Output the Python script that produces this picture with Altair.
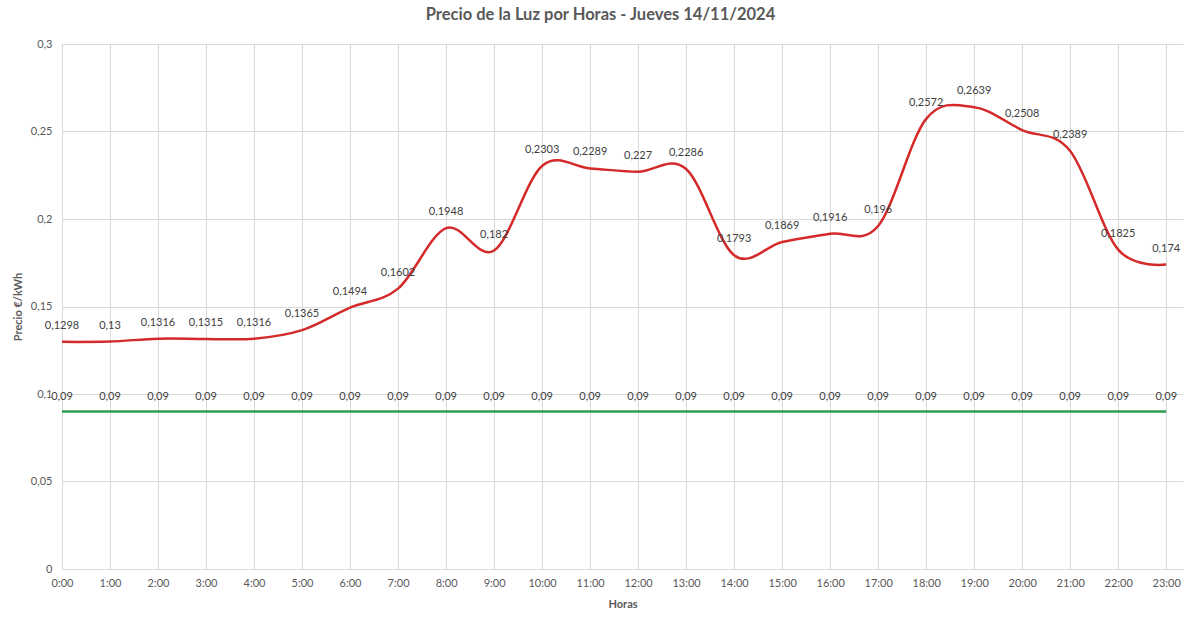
import altair as alt
import pandas as pd

horas = list(range(24))
precio = [0.1298, 0.13, 0.1316, 0.1315, 0.1316, 0.1365, 0.1494, 0.1602, 0.1948, 0.182,
          0.2303, 0.2289, 0.227, 0.2286, 0.1793, 0.1869, 0.1916, 0.196, 0.2572, 0.2639,
          0.2508, 0.2389, 0.1825, 0.174]
referencia = [0.09] * 24

df = pd.DataFrame({
    "h": horas,
    "precio": precio,
    "ref": referencia,
    "lab_p": [str(v).replace(".", ",") for v in precio],
    "lab_r": [str(v).replace(".", ",") for v in referencia],
})

FONT = "Lato"
GRAY = "#595959"

x = alt.X("h:Q",
          scale=alt.Scale(domain=[0, 23.35], nice=False, zero=False),
          axis=alt.Axis(values=horas, labelExpr="datum.value + ':00'", grid=True,
                        gridColor="#d9d9d9", domainColor="#d9d9d9", ticks=False,
                        labelPadding=8, labelFontSize=11, labelColor=GRAY,
                        title="Horas", titleFontSize=11, titleColor=GRAY,
                        titleFontWeight="bold", titlePadding=10, labelFlush=False))
y_axis = alt.Axis(values=[0, 0.05, 0.1, 0.15, 0.2, 0.25, 0.3],
                  labelExpr="replace(format(datum.value, '.2~f'), '.', ',')",
                  grid=True, gridColor="#d9d9d9", domain=False, ticks=False,
                  labelPadding=10, labelFontSize=11, labelColor=GRAY,
                  title="Precio €/kWh", titleFontSize=11, titleColor=GRAY,
                  titleFontWeight="bold", titlePadding=7)
yscale = alt.Scale(domain=[0, 0.3], nice=False)

base = alt.Chart(df)
red_line = base.mark_line(color="#d42a2a", strokeWidth=2.5, interpolate="cardinal").encode(
    x=x, y=alt.Y("precio:Q", scale=yscale, axis=y_axis))
green_line = base.mark_line(color="#2e9e55", strokeWidth=2.5).encode(
    x="h:Q", y=alt.Y("ref:Q", scale=yscale))
red_text = base.mark_text(dy=-16, fontSize=11, color="#404040", font=FONT).encode(
    x="h:Q", y=alt.Y("precio:Q", scale=yscale), text="lab_p:N")
green_text = base.mark_text(dy=-15, fontSize=11, color="#404040", font=FONT).encode(
    x="h:Q", y=alt.Y("ref:Q", scale=yscale), text="lab_r:N")

chart = alt.layer(green_line, red_line, red_text, green_text).properties(
    width=1121, height=525,
    title=alt.TitleParams("Precio de la Luz por Horas - Jueves 14/11/2024",
                          fontSize=16.5, font=FONT, fontWeight="bold", color=GRAY,
                          anchor="middle", dx=-22, offset=15),
    autosize=alt.AutoSizeParams(type="none"),
    padding={"left": 62, "top": 44, "right": 17, "bottom": 54},
).configure_view(stroke=None).configure_axis(labelFont=FONT, titleFont=FONT)

chart.save("out.html", embed_options={"renderer": "svg", "actions": False})
